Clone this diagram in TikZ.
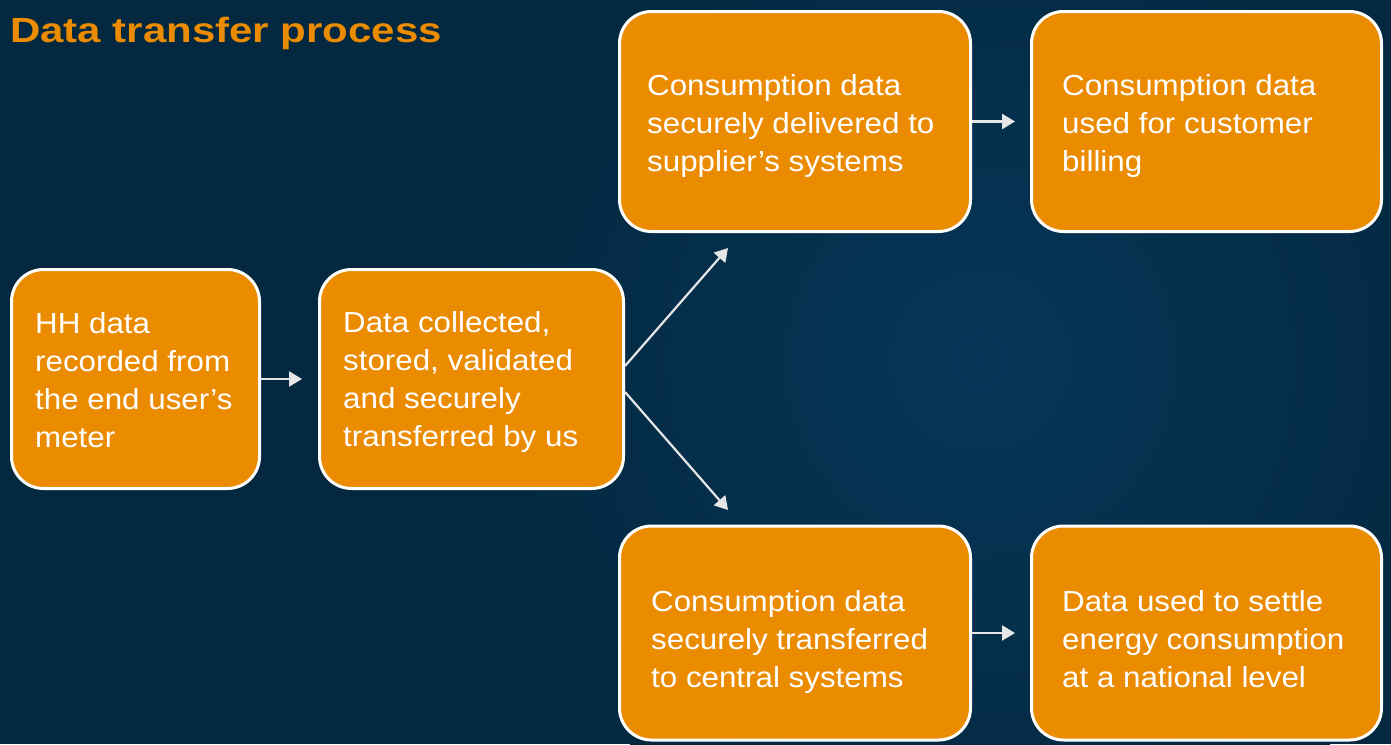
\documentclass[tikz,border=0pt]{standalone}
\usepackage{fontspec}
\setmainfont{Liberation Sans}
\newfontfamily\bodyfont{Liberation Sans}[FakeStretch=1.08]
\newfontfamily\titlefont{Liberation Sans}[FakeStretch=1.2]
\usetikzlibrary{arrows.meta}
\definecolor{bgnavy}{RGB}{3,40,64}
\definecolor{bglight}{RGB}{7,54,88}
\definecolor{boxorange}{RGB}{235,140,0}
\definecolor{arrowgray}{RGB}{230,230,230}
\tikzset{
  box/.style={draw=white, line width=3pt, fill=boxorange, rounded corners=32pt, inner sep=0pt},
  txt/.style={text=white, align=left, inner sep=0pt, anchor=west, font=\bodyfont\fontsize{29}{38}\selectfont},
  flow/.style={draw=arrowgray, line width=2.5pt, -{Triangle[length=13pt,width=15pt]}}
}
\begin{document}
\begin{tikzpicture}[x=1pt,y=-1pt]
\useasboundingbox (0,0) rectangle (1391,744);
\begin{scope}
\clip (0,0) rectangle (1391,744);
\fill[bgnavy] (0,0) rectangle (1391,744);
\shade[inner color=bglight, outer color=bgnavy] (980,360) circle (520);
\end{scope}
\node[anchor=base west, inner sep=0pt, text=boxorange, font=\titlefont\bfseries\fontsize{35}{40}\selectfont] (title) at (10,42) {Data transfer process};
% boxes
\node[box, minimum width=248, minimum height=219] (A) at (135.5,379) {};
\node[box, minimum width=304, minimum height=219] (B) at (471.5,379) {};
\node[box, minimum width=351, minimum height=220] (C) at (795,121.5) {};
\node[box, minimum width=350, minimum height=220] (D) at (1206.5,121.5) {};
\node[box, minimum width=351, minimum height=214] (E) at (795,633) {};
\node[box, minimum width=350, minimum height=214] (F) at (1206.5,633) {};
% texts
\node[txt] (tA) at (35,380) {HH data\\recorded from\\the end user’s\\meter};
\node[txt] (tB) at (343,382) {Data collected,\\stored, validated\\and securely\\transferred by us};
\node[txt] (tC) at (647,126) {Consumption data\\securely delivered to\\supplier’s systems};
\node[txt] (tD) at (1062,126) {Consumption data\\used for customer\\billing};
\node[txt] (tE) at (651,642) {Consumption data\\securely transferred\\to central systems};
\node[txt] (tF) at (1062,639) {Data used to settle\\energy consumption\\at a national level};
% connectors
\coordinate (up) at (728,248);
\coordinate (dn) at (728,510);
\draw[flow, shorten >=16pt] (A.east) -- (B.west);
\draw[flow, shorten >=15pt] (C.east) -- (D.west);
\draw[flow, shorten >=15pt] (E.east) -- (F.west);
\draw[flow, line width=2.2pt] ([yshift=13pt]B.east) -- (up);
\draw[flow, line width=2.2pt] ([yshift=-13pt]B.east) -- (dn);
\end{tikzpicture}
\end{document}
